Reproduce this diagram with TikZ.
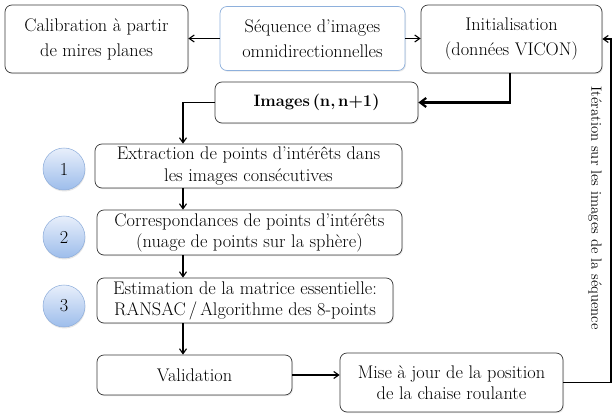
\documentclass[tikz,border=0pt]{standalone}
\usetikzlibrary{calc,arrows.meta,shadows}
\definecolor{boxline}{HTML}{3A3A3A}
\definecolor{seqline}{HTML}{8EB0DC}
\definecolor{ctop}{HTML}{E8EFFB}
\definecolor{cbot}{HTML}{9DBDEB}
\definecolor{cline}{HTML}{8CACDA}
\begin{document}
\begin{tikzpicture}[x=1pt,y=-1pt,
  every node/.style={font=\fontsize{18.3}{21}\selectfont},
  stepbox/.style={draw=boxline, line width=0.7pt, rounded corners=7pt, fill=white, align=center, inner sep=0pt,
    drop shadow={opacity=0.18, shadow xshift=1pt, shadow yshift=-1.2pt}},
  numball/.style={circle, draw=cline, line width=0.5pt, top color=ctop, bottom color=cbot, minimum size=42pt, inner sep=0pt,
    drop shadow={opacity=0.2, shadow xshift=0.5pt, shadow yshift=-1.5pt}},
  conn/.style={-{Straight Barb[length=5pt,width=7pt]}, line width=1.1pt, black},
  thickconn/.style={-{Straight Barb[length=6pt,width=9pt]}, line width=2.2pt, black}
]
\useasboundingbox (0,0) rectangle (614,414);

\node[stepbox, minimum width=183pt, minimum height=68pt, font=\fontsize{18.3}{25}\selectfont] (calib) at (96.5,39) {Calibration à partir\\de mires planes};
\node[stepbox, draw=seqline, minimum width=185pt, minimum height=64pt, font=\fontsize{18.3}{25}\selectfont] (seq) at (312.5,38.5) {Séquence d'images\\omnidirectionnelles};
\node[stepbox, minimum width=181pt, minimum height=68pt, font=\fontsize{18.3}{25}\selectfont] (init) at (511.5,39) {Initialisation\\(données VICON)};
\node[stepbox, minimum width=203pt, minimum height=41pt, font=\fontsize{16.5}{21}\selectfont\bfseries] (imgs) at (316.5,102.5) {Images\,(n,\,n+1)};

\node[stepbox, minimum width=307pt, minimum height=44pt] (ext) at (248.5,166) {Extraction de points d'intérêts dans\\les images consécutives};
\node[stepbox, minimum width=305pt, minimum height=45pt] (corr) at (249.5,232.5) {Correspondances de points d'intérêts\\(nuage de points sur la sphère)};
\node[stepbox, minimum width=296pt, minimum height=45pt] (est) at (245,300.5) {Estimation de la matrice essentielle:\\RANSAC\,/\,Algorithme des 8-points};
\node[stepbox, minimum width=195pt, minimum height=40pt] (valid) at (194.5,375) {Validation};
\node[stepbox, minimum width=223pt, minimum height=59pt] (maj) at (451.5,382.5) {Mise à jour de la position\\de la chaise roulante};

\node[numball] (n1) at (64,169) {1};
\node[numball] (n2) at (64,237) {2};
\node[numball] (n3) at (64,306) {3};

\coordinate (xcol) at (183,0);
\coordinate (xinit) at (510,0);
\coordinate (xright) at (611,0);

\draw[conn] (seq.west) -- (seq.west -| calib.east);
\draw[conn] (seq.east) -- (seq.east -| init.west);
\draw[thickconn] (init.south -| xinit) |- (imgs.east);
\draw[conn] (imgs.west) -| (ext.north -| xcol);
\draw[conn] (ext.south -| xcol) -- (corr.north -| xcol);
\draw[conn] (corr.south -| xcol) -- (est.north -| xcol);
\draw[conn] (est.south -| xcol) -- (valid.north -| xcol);
\draw[conn] (valid.east) -- (valid.east -| maj.west);
\draw[conn] (maj.east) -| (xright |- init.east) -- (init.east);

\node[rotate=-90, font=\fontsize{14.8}{16}\selectfont, inner sep=0pt] (lbl) at (595,208) {Itération sur les images de la séquence};
\end{tikzpicture}
\end{document}
